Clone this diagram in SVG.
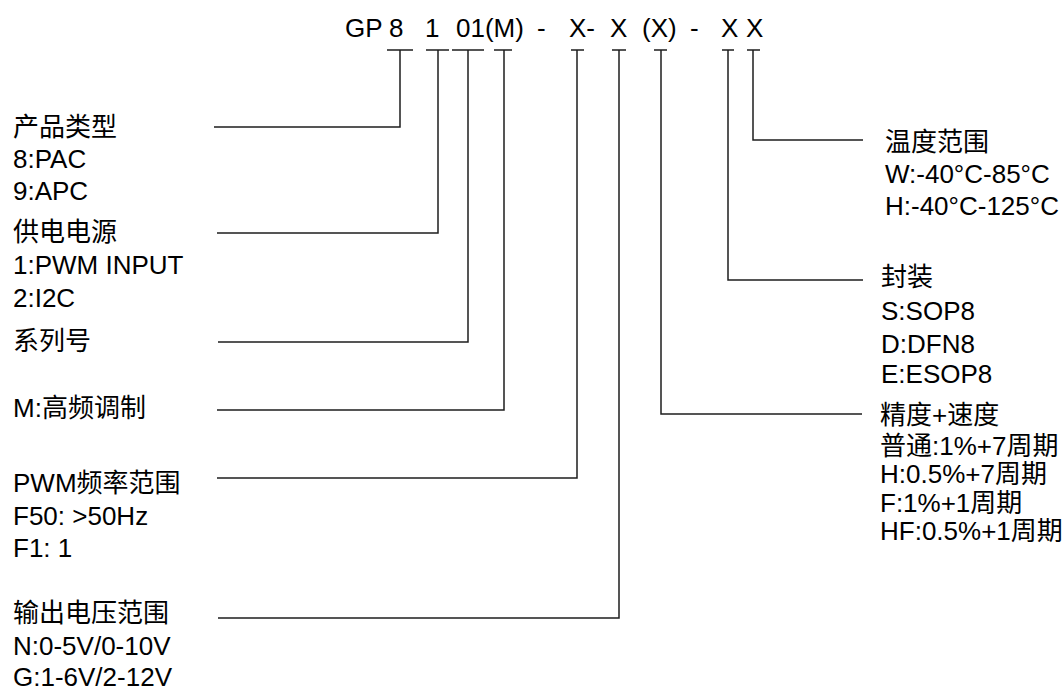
<svg xmlns="http://www.w3.org/2000/svg" width="1064" height="691" viewBox="0 0 1064 691">
<style>
text{font-family:"Liberation Sans","Noto Sans CJK SC",Arial,sans-serif;font-size:26px;fill:#000}
.ln{fill:none;stroke:#1e1e1e;stroke-width:1.5}
</style>
<rect width="1064" height="691" fill="#fff"/>
<g id="header">
<text x="345" y="37">GP</text>
<text x="389" y="37">8</text>
<text x="425" y="37">1</text>
<text x="456" y="37">01(M)</text>
<text x="537" y="37">-</text>
<text x="569" y="37">X-</text>
<text x="610" y="37">X</text>
<text x="642" y="37">(X)</text>
<text x="690" y="37">-</text>
<text x="721" y="37">X</text>
<text x="746" y="37">X</text>
</g>
<g id="connectors" class="ln">
<path d="M387 50H413M400 50V127H214"/>
<path d="M426 50H449M438 50V233H217"/>
<path d="M452 50H484M468 50V342H218"/>
<path d="M494 50H512M504 50V410H217"/>
<path d="M571 50H584M577 50V478H217"/>
<path d="M612 50H626M619 50V618H218"/>
<path d="M654 50H667M661 50V414H862"/>
<path d="M722 50H734M728 50V280H863"/>
<path d="M747 50H760M753 50V140H863"/>
</g>
<g id="type">
<text x="13" y="136">产品类型</text>
<text x="13" y="168">8:PAC</text>
<text x="13" y="200">9:APC</text>
</g>
<g id="power">
<text x="13" y="241">供电电源</text>
<text x="13" y="274">1:PWM INPUT</text>
<text x="13" y="307">2:I2C</text>
</g>
<g id="series">
<text x="13" y="350">系列号</text>
</g>
<g id="mod">
<text x="13" y="417">M:高频调制</text>
</g>
<g id="pwm">
<text x="13" y="492">PWM频率范围</text>
<text x="13" y="525">F50: &gt;50Hz</text>
<text x="13" y="557">F1: 1</text>
</g>
<g id="vout">
<text x="13" y="622">输出电压范围</text>
<text x="13" y="655">N:0-5V/0-10V</text>
<text x="13" y="686">G:1-6V/2-12V</text>
</g>
<g id="temp">
<text x="885" y="151">温度范围</text>
<text x="885" y="183">W:-40°C-85°C</text>
<text x="885" y="215">H:-40°C-125°C</text>
</g>
<g id="pkg">
<text x="881" y="286">封装</text>
<text x="881" y="320">S:SOP8</text>
<text x="881" y="353">D:DFN8</text>
<text x="881" y="383">E:ESOP8</text>
</g>
<g id="acc">
<text x="880" y="424">精度+速度</text>
<text x="880" y="455">普通:1%+7周期</text>
<text x="880" y="483">H:0.5%+7周期</text>
<text x="880" y="512">F:1%+1周期</text>
<text x="880" y="540">HF:0.5%+1周期</text>
</g>
</svg>
